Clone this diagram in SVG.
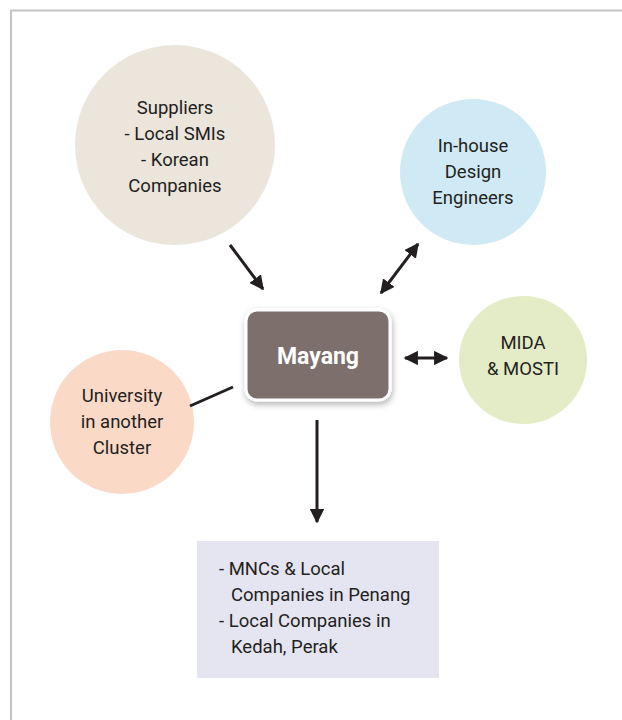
<svg xmlns="http://www.w3.org/2000/svg" width="622" height="720" viewBox="0 0 622 720">
<defs>
<style>
.t{font-family:Roboto,"Liberation Sans",sans-serif;font-size:18.5px;fill:#231f20;text-anchor:middle}
.c{stroke:#231f20;stroke-width:3;fill:none}
</style>
<marker id="ah" viewBox="0 0 10 10" refX="9" refY="5" markerWidth="4.8" markerHeight="4.8" orient="auto-start-reverse" markerUnits="strokeWidth">
<path d="M0,0 L10,5 L0,10 Z" fill="#231f20"/>
</marker>
<filter id="sh" x="-20%" y="-20%" width="140%" height="150%">
<feDropShadow dx="1" dy="3" stdDeviation="3" flood-color="#000" flood-opacity="0.3"/>
</filter>
</defs>
<rect x="0" y="0" width="622" height="720" fill="#fff"/>
<rect x="11" y="10.5" width="620" height="720" fill="#fff" stroke="#c4c4c8" stroke-width="2"/>
<g id="suppliers">
<circle cx="175" cy="145" r="100" fill="#ebe5dc"/>
<text class="t" x="175" y="114">Suppliers</text>
<text class="t" x="175" y="140">- Local SMIs</text>
<text class="t" x="175" y="166">- Korean</text>
<text class="t" x="175" y="192">Companies</text>
</g>
<g id="inhouse">
<circle cx="473" cy="172" r="73" fill="#cfeaf4"/>
<text class="t" x="473" y="152">In-house</text>
<text class="t" x="473" y="178">Design</text>
<text class="t" x="473" y="204">Engineers</text>
</g>
<g id="mida">
<circle cx="523" cy="360" r="64" fill="#e4ecc7"/>
<text class="t" x="523" y="349">MIDA</text>
<text class="t" x="523" y="375">&amp; MOSTI</text>
</g>
<g id="university">
<circle cx="122" cy="422" r="72" fill="#fbd9c7"/>
<text class="t" x="122" y="402">University</text>
<text class="t" x="122" y="428">in another</text>
<text class="t" x="122" y="454">Cluster</text>
</g>
<g id="mayang">
<rect x="246" y="310" width="144" height="90" rx="11" fill="#7d706c" stroke="#fff" stroke-width="3" filter="url(#sh)"/>
<text x="318" y="364" style="font-family:Roboto,'Liberation Sans',sans-serif;font-size:23px;font-weight:bold;fill:#fff;text-anchor:middle">Mayang</text>
</g>
<g id="customers">
<rect x="197" y="541" width="242" height="137" fill="#e5e5f1"/>
<text class="t" x="219" y="575" style="text-anchor:start">- MNCs &amp; Local</text>
<text class="t" x="231" y="601" style="text-anchor:start">Companies in Penang</text>
<text class="t" x="219" y="627" style="text-anchor:start">- Local Companies in</text>
<text class="t" x="231" y="653" style="text-anchor:start">Kedah, Perak</text>
</g>
<g id="connectors">
<line class="c" x1="230" y1="245" x2="263" y2="289" marker-end="url(#ah)"/>
<line class="c" x1="381" y1="293" x2="418" y2="244" marker-start="url(#ah)" marker-end="url(#ah)"/>
<line class="c" x1="405" y1="358" x2="447" y2="358" marker-start="url(#ah)" marker-end="url(#ah)"/>
<line class="c" x1="190" y1="406" x2="233" y2="387"/>
<line class="c" x1="317" y1="420" x2="317" y2="522" marker-end="url(#ah)"/>
</g>
</svg>
